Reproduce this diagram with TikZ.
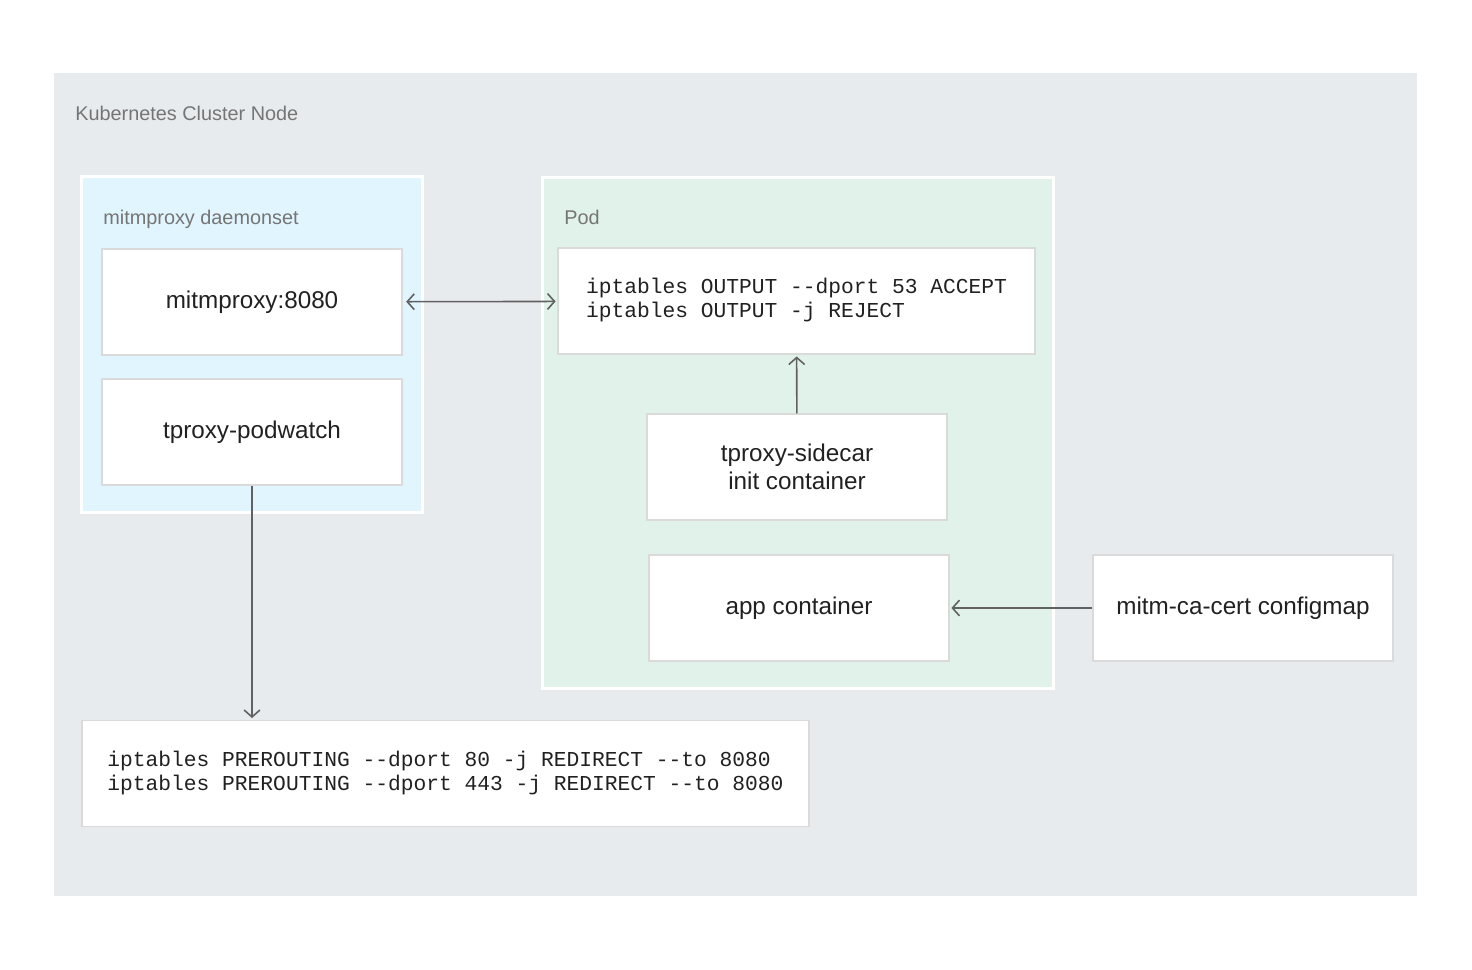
\documentclass[tikz,border=0pt]{standalone}
\usepackage{fontspec}
\setmainfont{Liberation Sans}
\setmonofont{Liberation Mono}
\usetikzlibrary{arrows.meta}

\definecolor{clustergray}{HTML}{E8EBEE}
\definecolor{dsblue}{HTML}{E1F5FE}
\definecolor{podgreen}{HTML}{E0F2EA}
\definecolor{boxline}{HTML}{DADADA}
\definecolor{boxtext}{HTML}{212121}
\definecolor{captiontext}{HTML}{757575}
\definecolor{arrowgray}{HTML}{616161}

\newcommand{\rulelines}[1]{\begin{tabular}{@{}l@{}}#1\end{tabular}}

\begin{document}
\begin{tikzpicture}[x=0.02cm, y=-0.02cm,
    box/.style = {draw=boxline, line width=0.8pt, fill=white,
        minimum width=6cm, minimum height=2.12cm,
        font=\fontsize{13.8}{16}\selectfont, text=boxtext, align=center},
    code/.style = {draw=boxline, line width=0.8pt, fill=white,
        minimum height=2.12cm, inner xsep=0pt,
        font=\ttfamily\fontsize{12.1}{13.6}\selectfont, text=boxtext},
    group/.style = {draw=white, line width=1.7pt},
    caption/.style = {anchor=base west, inner sep=0pt,
        font=\fontsize{11.3}{13}\selectfont, text=captiontext},
    link/.style = {draw=arrowgray, line width=0.9pt,
        -{Straight Barb[length=4pt,width=9pt]}}]

\useasboundingbox (0,0) rectangle (1472,970);

% Cluster node
\fill[clustergray] (54,73) rectangle (1417,896);
\node[caption] (cluster) at (75,120) {Kubernetes Cluster Node};

% Daemonset
\draw[group, fill=dsblue] (81.5,176.5) rectangle (422.5,512.5);
\node[caption] (daemonset) at (103,224) {mitmproxy daemonset};
\node[box] (proxy) at (252,302) {mitmproxy:8080};
\node[box] (podwatch) at (252,432) {tproxy-podwatch};

% Pod
\draw[group, fill=podgreen] (542.5,177.5) rectangle (1053.5,688.5);
\node[caption] (pod) at (564,224) {Pod};
\node[code, minimum width=9.54cm] (output) at (796.5,301)
    {\rulelines{iptables OUTPUT --dport 53 ACCEPT\\iptables OUTPUT -j REJECT}};
\node[box] (sidecar) at (797,467) {tproxy-sidecar\\init container};
\node[box] (app) at (799,608) {app container};

% Configmap
\node[box] (configmap) at (1243,608) {mitm-ca-cert configmap};

% Node rules
\node[code, minimum width=14.54cm] (prerouting) at (445.5,773.5)
    {\rulelines{iptables PREROUTING --dport 80 -j REDIRECT --to 8080\\iptables PREROUTING --dport 443 -j REDIRECT --to 8080}};

% Arrows
\draw[link, {Straight Barb[length=4pt,width=9pt]}-{Straight Barb[length=4pt,width=9pt]},
    shorten <=2pt, shorten >=1pt] (proxy) -- (output);
\draw[link, shorten >=1pt] (sidecar) -- (output);
\draw[link, shorten >=1pt] (podwatch.south) -- (podwatch.south |- prerouting.north);
\draw[link, shorten >=1pt] (configmap) -- (app);

\end{tikzpicture}
\end{document}
